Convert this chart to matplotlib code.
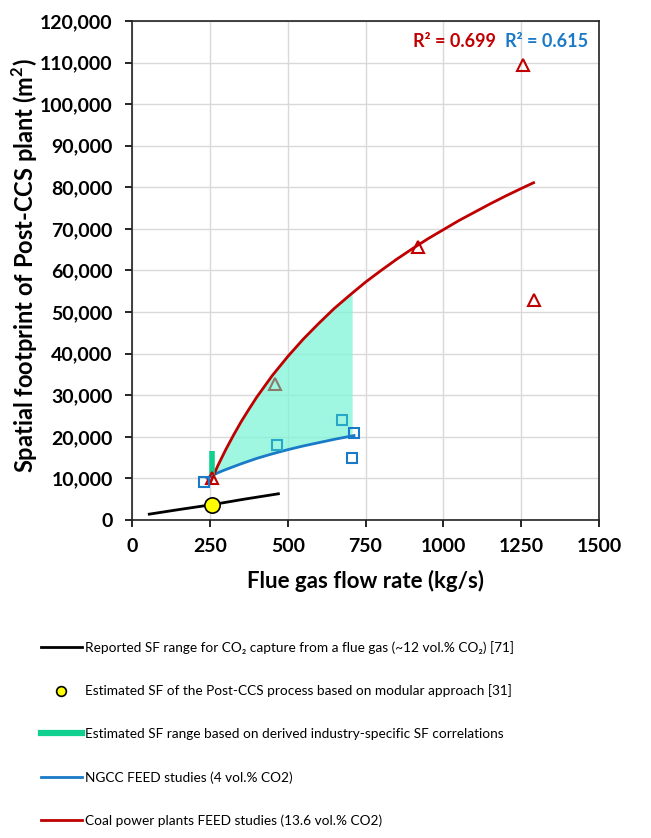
import numpy as np
import matplotlib
matplotlib.use("Agg")
import matplotlib.pyplot as plt
from matplotlib.lines import Line2D
from matplotlib.ticker import FuncFormatter

plt.rcParams['font.family'] = ['Lato', 'DejaVu Sans']

# data (kg/s, m2)
coal_fit_x = [252, 275, 300, 325, 350, 375, 400, 450, 500, 550, 600, 650, 700, 750,
              800, 850, 900, 950, 1000, 1050, 1100, 1150, 1200, 1250, 1290]
coal_fit_y = [9100, 13000, 16800, 20300, 23600, 26600, 29500, 34700, 39300, 43500, 47300, 50900, 54100, 57200,
              60000, 62700, 65200, 67600, 69800, 72000, 74000, 76000, 77900, 79700, 81100]
ngcc_fit_x = [240, 260, 280, 300, 350, 400, 450, 500, 550, 600, 650, 713]
ngcc_fit_y = [10100, 10800, 11500, 12100, 13500, 14800, 15900, 16900, 17800, 18600, 19400, 20300]
band_x = [260, 275, 300, 325, 350, 375, 400, 450, 500, 550, 600, 650, 700, 707]
band_lo = [10800, 11300, 12100, 12800, 13500, 14200, 14800, 15900, 16900, 17800, 18600, 19400, 20100, 20200]
band_hi = [10800, 13000, 16800, 20300, 23600, 26600, 29500, 34700, 39300, 43500, 47300, 50900, 54100, 54500]
lit_x = [55, 150, 258, 360, 470]
lit_y = [1400, 2500, 3700, 5000, 6300]
modular_x = [258]
modular_y = [3600]
range_x = [256, 256]
range_y = [10600, 16500]
coal_x = [1255, 918, 1290, 258]
coal_y = [109500, 65700, 53000, 10200]
coal_other_x = [460]
coal_other_y = [32600]
ngcc_x = [232, 713, 705]
ngcc_y = [9200, 21000, 14800]
ngcc_other_x = [465, 675]
ngcc_other_y = [18000, 24000]

red = '#c00000'
blue = '#1a7ac8'
green = '#10d090'

fig = plt.figure(figsize=(6.51, 8.38), dpi=100)
ax = fig.add_axes([0.203, 0.3795, 0.717, 0.5955])

ax.fill_between(band_x, band_lo, band_hi, color='#7ff5d8', alpha=0.75, lw=0, zorder=1)
ax.plot(lit_x, lit_y, color='black', lw=2, zorder=3)
ax.plot(ngcc_fit_x, ngcc_fit_y, color=blue, lw=2, zorder=3)
ax.plot(coal_fit_x, coal_fit_y, color=red, lw=2, zorder=3)
ax.plot(range_x, range_y, color=green, lw=4, solid_capstyle='butt', zorder=4)
ax.plot(coal_x, coal_y, ls='none', marker='^', ms=8, mfc='none', mec=red, mew=1.5, zorder=5)
ax.plot(coal_other_x, coal_other_y, ls='none', marker='^', ms=8, mfc='none', mec='#8a7a6a', mew=1.5, zorder=5)
ax.plot(ngcc_x, ngcc_y, ls='none', marker='s', ms=6.5, mfc='none', mec=blue, mew=1.5, zorder=5)
ax.plot(ngcc_other_x, ngcc_other_y, ls='none', marker='s', ms=6.5, mfc='none', mec='#28a8c8', mew=1.5, zorder=5)
ax.plot(modular_x, modular_y, ls='none', marker='o', ms=11, mfc='#ffff00', mec='black', mew=1.2, zorder=6)

ax.text(0.69, 0.958, 'R² = 0.699', color=red, transform=ax.transAxes, fontsize=13, fontweight='bold', ha='center', va='center')
ax.text(0.888, 0.958, 'R² = 0.615', color=blue, transform=ax.transAxes, fontsize=13, fontweight='bold', ha='center', va='center')

ax.set_xlim(0, 1500)
ax.set_ylim(0, 120000)
ax.set_xticks(np.arange(0, 1501, 250))
ax.set_yticks(np.arange(0, 120001, 10000))
ax.yaxis.set_major_formatter(FuncFormatter(lambda v, p: f'{int(v):,}'))
ax.grid(True, color='#d9d9d9', lw=1)
ax.set_axisbelow(True)
for s in ax.spines.values():
    s.set_color('#222222')
    s.set_linewidth(1.2)
ax.tick_params(direction='out', length=5, width=1.2, labelsize=14)
ax.tick_params(axis='x', pad=8)
ax.tick_params(axis='y', pad=9)
for lab in ax.get_xticklabels() + ax.get_yticklabels():
    lab.set_fontweight('bold')
ax.set_xlabel('Flue gas flow rate (kg/s)', fontsize=16, fontweight='bold')
ax.set_ylabel('Spatial footprint of Post-CCS plant (m$^\\mathregular{2}$)', fontsize=17, fontweight='bold')
ax.xaxis.set_label_coords(0.5, -0.1)
ax.yaxis.set_label_coords(-0.197, 0.51)

handles = [
    Line2D([], [], color='black', lw=2),
    Line2D([], [], ls='none', marker='o', ms=7, mfc='#ffff00', mec='black', mew=1.2),
    Line2D([], [], color=green, lw=4.5),
    Line2D([], [], color=blue, lw=2),
    Line2D([], [], color=red, lw=2),
]
labels = [
    'Reported SF range for CO₂ capture from a flue gas (~12 vol.% CO₂) [71]',
    'Estimated SF of the Post-CCS process based on modular approach [31]',
    'Estimated SF range based on derived industry-specific SF correlations',
    'NGCC FEED studies (4 vol.% CO2)',
    'Coal power plants FEED studies (13.6 vol.% CO2)',
]
fig.legend(handles, labels, loc='upper left', bbox_to_anchor=(0.052, 0.2435), frameon=False,
           fontsize=9.8, handlelength=3.05, handletextpad=0.2, labelspacing=2.26, borderpad=0)

fig.savefig('out.png', dpi=100)
